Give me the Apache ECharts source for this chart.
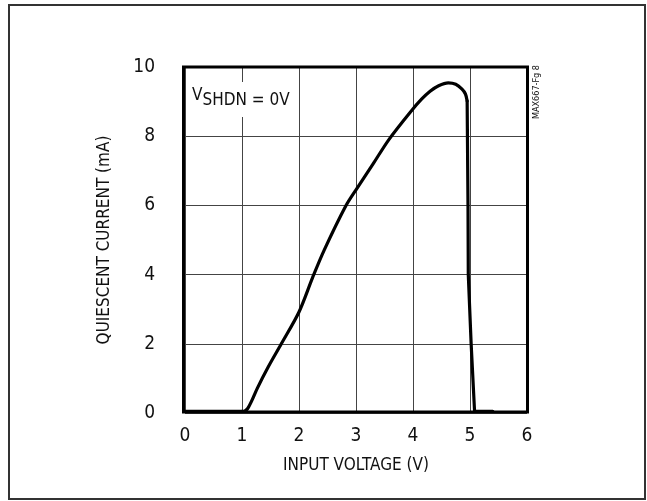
<!DOCTYPE html>
<html>
<head>
<meta charset="utf-8">
<script src="https://cdn.jsdelivr.net/npm/echarts@6/dist/echarts.min.js"></script>
<style>
html,body{margin:0;padding:0;background:#fff;}
#chart{width:647px;height:501px;}
</style>
</head>
<body>
<div id="chart"></div>
<script>
// ---- data ----
var inputVoltage = [0, 1.0, 1.05, 1.1, 1.17, 1.27, 1.45, 1.69, 2.0, 2.24, 2.44, 2.82, 3.0, 3.3, 3.58, 3.97, 4.15, 4.3, 4.45, 4.62, 4.75, 4.86, 4.92, 4.95, 4.955, 4.965, 4.97, 5.02, 5.08, 5.4];
var quiescentCurrent = [0.05, 0.05, 0.06, 0.13, 0.35, 0.72, 1.3, 2.0, 2.92, 3.92, 4.7, 5.98, 6.45, 7.2, 7.91, 8.73, 9.07, 9.3, 9.46, 9.54, 9.5, 9.36, 9.22, 9.02, 8.0, 6.0, 4.0, 2.0, 0.05, 0.05];
var xTicks = [0, 1, 2, 3, 4, 5, 6];
var yTicks = [0, 2, 4, 6, 8, 10];

var FONT = "'Liberation Sans Narrow', 'Arial Narrow', 'DejaVu Sans Condensed', 'Roboto', sans-serif";
var chart = echarts.init(document.getElementById('chart'), null, {renderer: 'canvas'});
var pts = inputVoltage.map(function (v, i) { return [v, quiescentCurrent[i]]; });
// curved rise (1.0 V .. 4.95 V) and straight flat/drop portions
var riseStart = 1, riseEnd = 23;
var flatPart = pts.slice(0, riseStart + 1);
var risePart = pts.slice(riseStart, riseEnd + 1);
var dropPart = pts.slice(riseEnd);

var lineStyle = {color: '#000', width: 3.2, join: 'round', cap: 'round'};
chart.setOption({
  animation: false,
  backgroundColor: '#fff',
  grid: {left: 185, right: 120, top: 67, bottom: 88, show: false},
  xAxis: {
    type: 'value', min: xTicks[0], max: xTicks[xTicks.length - 1], interval: 1,
    name: 'INPUT VOLTAGE (V)', nameLocation: 'middle', nameGap: 44,
    nameTextStyle: {color: '#111', fontFamily: FONT, fontSize: 17},
    axisLine: {show: false}, axisTick: {show: false},
    axisLabel: {color: '#111', fontFamily: FONT, fontSize: 19, margin: 14},
    splitLine: {show: true, lineStyle: {color: '#444', width: 1}}
  },
  yAxis: {
    type: 'value', min: yTicks[0], max: yTicks[yTicks.length - 1], interval: 2,
    name: 'QUIESCENT CURRENT (mA)', nameLocation: 'middle', nameGap: 72, nameRotate: 90,
    nameTextStyle: {color: '#111', fontFamily: FONT, fontSize: 17},
    axisLine: {show: false}, axisTick: {show: false},
    axisLabel: {color: '#111', fontFamily: FONT, fontSize: 19, margin: 30},
    splitLine: {show: true, lineStyle: {color: '#444', width: 1}}
  },
  series: [
    {type: 'line', data: flatPart, showSymbol: false, smooth: false, lineStyle: lineStyle, z: 5},
    {type: 'line', data: risePart, showSymbol: false, smooth: 0.3, lineStyle: lineStyle, z: 5},
    {type: 'line', data: dropPart, showSymbol: false, smooth: false, lineStyle: lineStyle, z: 5}
  ],
  graphic: [
    {type: 'rect', shape: {x: 9, y: 5, width: 636, height: 494},
     style: {fill: 'none', stroke: '#333', lineWidth: 2}, silent: true, z: 1},
    {type: 'rect', shape: {x: 183.5, y: 67, width: 344, height: 345},
     style: {fill: 'none', stroke: '#000', lineWidth: 3}, silent: true, z: 10},
    {type: 'rect', shape: {x: 187, y: 82, width: 108, height: 35},
     style: {fill: '#fff'}, silent: true, z: 4},
    {type: 'text', x: 192, y: 87, z: 6,
     style: {text: '{v|V}{s|SHDN = 0V}', fontFamily: FONT, fill: '#111',
       rich: {v: {fontSize: 17, fontFamily: FONT, fill: '#111', verticalAlign: 'top', padding: [0, 0, 5, 0]},
              s: {fontSize: 17, fontFamily: FONT, fill: '#111', verticalAlign: 'bottom', padding: [5, 0, 0, 0]}}}},
    {type: 'text', x: 537, y: 92, rotation: Math.PI / 2, z: 6,
     style: {text: 'MAX667-Fg 8', fontFamily: FONT, fontSize: 9, fill: '#111', align: 'center', verticalAlign: 'middle'}}
  ]
});
</script>
</body>
</html>
